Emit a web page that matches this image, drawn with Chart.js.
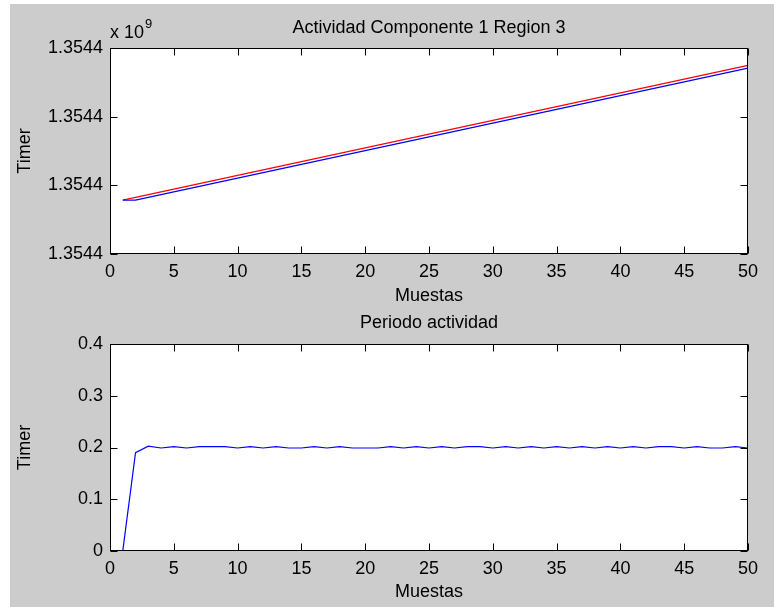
<!DOCTYPE html>
<html>
<head>
<meta charset="utf-8">
<script src="https://cdn.jsdelivr.net/npm/chart.js@4.4.1/dist/chart.umd.min.js"></script>
<style>
  html, body { margin: 0; padding: 0; background: #ffffff; width: 774px; height: 607px; overflow: hidden; }
  #fondo { position: absolute; left: 10px; top: 4px; right: 0; bottom: 0; background: #cccccc; }
  canvas { position: absolute; left: 0; }
  #c1 { top: 0; }
  #c2 { top: 300px; }
</style>
</head>
<body>
<div id="fondo"></div>
<canvas id="c1" width="774" height="310"></canvas>
<canvas id="c2" width="774" height="307"></canvas>
<script>
// Número de muestra
const muestras = [1,2,3,4,5,6,7,8,9,10,11,12,13,14,15,16,17,18,19,20,
                  21,22,23,24,25,26,27,28,29,30,31,32,33,34,35,36,37,38,39,40,
                  41,42,43,44,45,46,47,48,49,50];

// Instante de fin de actividad (timer, s)
const timerFin = [
  1354402618.9300, 1354402619.1200, 1354402619.3225, 1354402619.5215, 1354402619.7230,
  1354402619.9220, 1354402620.1235, 1354402620.3250, 1354402620.5265, 1354402620.7255,
  1354402620.9270, 1354402621.1260, 1354402621.3275, 1354402621.5265, 1354402621.7255,
  1354402621.9270, 1354402622.1260, 1354402622.3275, 1354402622.5265, 1354402622.7255,
  1354402622.9245, 1354402623.1260, 1354402623.3250, 1354402623.5265, 1354402623.7255,
  1354402623.9270, 1354402624.1260, 1354402624.3275, 1354402624.5290, 1354402624.7280,
  1354402624.9295, 1354402625.1285, 1354402625.3300, 1354402625.5290, 1354402625.7305,
  1354402625.9295, 1354402626.1310, 1354402626.3300, 1354402626.5315, 1354402626.7305,
  1354402626.9320, 1354402627.1310, 1354402627.3325, 1354402627.5340, 1354402627.7330,
  1354402627.9345, 1354402628.1335, 1354402628.3325, 1354402628.5340, 1354402628.7330
];

// Instante de inicio de actividad (timer, s)
const timerInicio = [
  1354402618.9300, 1354402618.9300, 1354402619.1200, 1354402619.3225, 1354402619.5215,
  1354402619.7230, 1354402619.9220, 1354402620.1235, 1354402620.3250, 1354402620.5265,
  1354402620.7255, 1354402620.9270, 1354402621.1260, 1354402621.3275, 1354402621.5265,
  1354402621.7255, 1354402621.9270, 1354402622.1260, 1354402622.3275, 1354402622.5265,
  1354402622.7255, 1354402622.9245, 1354402623.1260, 1354402623.3250, 1354402623.5265,
  1354402623.7255, 1354402623.9270, 1354402624.1260, 1354402624.3275, 1354402624.5290,
  1354402624.7280, 1354402624.9295, 1354402625.1285, 1354402625.3300, 1354402625.5290,
  1354402625.7305, 1354402625.9295, 1354402626.1310, 1354402626.3300, 1354402626.5315,
  1354402626.7305, 1354402626.9320, 1354402627.1310, 1354402627.3325, 1354402627.5340,
  1354402627.7330, 1354402627.9345, 1354402628.1335, 1354402628.3325, 1354402628.5340
];

// Periodo de actividad por muestra (s)
const periodo = [
  0, 0.19, 0.2025, 0.199, 0.2015, 0.199, 0.2015, 0.2015, 0.2015, 0.199,
  0.2015, 0.199, 0.2015, 0.199, 0.199, 0.2015, 0.199, 0.2015, 0.199, 0.199,
  0.199, 0.2015, 0.199, 0.2015, 0.199, 0.2015, 0.199, 0.2015, 0.2015, 0.199,
  0.2015, 0.199, 0.2015, 0.199, 0.2015, 0.199, 0.2015, 0.199, 0.2015, 0.199,
  0.2015, 0.199, 0.2015, 0.2015, 0.199, 0.2015, 0.199, 0.199, 0.2015, 0.199
];

// Ticks
const ticksMuestras = [0, 5, 10, 15, 20, 25, 30, 35, 40, 45, 50];
const ticksTimer = [1354402615, 1354402620, 1354402625, 1354402630];
const etiquetaTimer = '1.3544';
const ticksPeriodo = [0, 0.1, 0.2, 0.3, 0.4];

const FONT = '"Liberation Sans", Arial, Helvetica, sans-serif';
const fuente = { family: FONT, size: 18, weight: 'normal', lineHeight: 1.2 };

// Caja de ejes estilo MATLAB: fondo blanco, marco negro y marcas hacia dentro
const cajaEjes = {
  id: 'cajaEjes',
  beforeDraw(chart) {
    const { ctx, chartArea: a } = chart;
    ctx.save();
    ctx.fillStyle = '#ffffff';
    ctx.fillRect(a.left, a.top, a.right - a.left, a.bottom - a.top);
    ctx.restore();
  },
  afterDraw(chart) {
    const { ctx, chartArea: a, scales } = chart;
    const L = Math.round(a.left) + 0.5, R = Math.round(a.right) - 0.5;
    const T = Math.round(a.top) + 0.5, B = Math.round(a.bottom) - 0.5;
    const len = 7;
    ctx.save();
    ctx.strokeStyle = '#000000';
    ctx.lineWidth = 1;
    ctx.beginPath();
    scales.x.ticks.forEach(t => {
      const px = Math.round(scales.x.getPixelForValue(t.value)) + 0.5;
      ctx.moveTo(px, B); ctx.lineTo(px, B - len);
      ctx.moveTo(px, T); ctx.lineTo(px, T + len);
    });
    scales.y.ticks.forEach(t => {
      const py = Math.round(scales.y.getPixelForValue(t.value)) + 0.5;
      ctx.moveTo(L, py); ctx.lineTo(L + len, py);
      ctx.moveTo(R, py); ctx.lineTo(R - len, py);
    });
    ctx.stroke();
    ctx.strokeRect(L, T, R - L, B - T);
    ctx.restore();
  }
};

// Factor de escala "x 10^9" sobre el eje Y
const factorEscala = {
  id: 'factorEscala',
  afterDraw(chart) {
    const { ctx, chartArea: a } = chart;
    ctx.save();
    ctx.fillStyle = '#000000';
    ctx.textBaseline = 'alphabetic';
    ctx.textAlign = 'left';
    ctx.font = '18px ' + FONT;
    const base = 'x 10';
    ctx.fillText(base, a.left, a.top - 10);
    const w = ctx.measureText(base).width;
    ctx.font = '13px ' + FONT;
    ctx.fillText('9', a.left + w + 1, a.top - 20);
    ctx.restore();
  }
};

function ejeX(paddingTitulo) {
  return {
    type: 'linear',
    min: 0, max: 50,
    afterBuildTicks: s => { s.ticks = ticksMuestras.map(v => ({ value: v })); },
    ticks: { color: '#000', font: fuente, padding: 7, maxRotation: 0, autoSkip: false },
    grid: { display: false, drawTicks: false },
    border: { display: false },
    title: { display: true, text: 'Muestas', color: '#000', font: fuente, padding: { top: 0, bottom: paddingTitulo } },
    afterFit: s => { s.height = 56; }
  };
}

function ejeY(opciones) {
  return Object.assign({
    type: 'linear',
    grid: { display: false, drawTicks: false },
    border: { display: false },
    title: { display: true, text: 'Timer', color: '#000', font: fuente, padding: { top: 14, bottom: 0 } },
    afterFit: s => { s.width = 110; }
  }, opciones);
}

// Gráfica superior: timer de inicio y fin
new Chart(document.getElementById('c1'), {
  type: 'line',
  data: {
    labels: muestras,
    datasets: [
      { label: 'Inicio', data: timerInicio, borderColor: '#0000ff', borderWidth: 1.2, pointRadius: 0, tension: 0, order: 1 },
      { label: 'Fin', data: timerFin, borderColor: '#ff0000', borderWidth: 1.2, pointRadius: 0, tension: 0, order: 2 }
    ]
  },
  options: {
    responsive: false, animation: false,
    layout: { padding: { top: 0, left: 0, right: 26, bottom: 0 } },
    plugins: {
      legend: { display: false }, tooltip: { enabled: false },
      title: { display: true, fullSize: false, text: 'Actividad Componente 1 Region 3', color: '#000', font: fuente, padding: { top: 17.2, bottom: 9.2 } }
    },
    scales: {
      x: ejeX(3),
      y: ejeY({
        min: ticksTimer[0], max: ticksTimer[ticksTimer.length - 1],
        afterBuildTicks: s => { s.ticks = ticksTimer.map(v => ({ value: v })); },
        ticks: { color: '#000', font: fuente, padding: 7, callback: () => etiquetaTimer }
      })
    }
  },
  plugins: [cajaEjes, factorEscala]
});

// Gráfica inferior: periodo de actividad
new Chart(document.getElementById('c2'), {
  type: 'line',
  data: {
    labels: muestras,
    datasets: [
      { label: 'Periodo', data: periodo, borderColor: '#0000ff', borderWidth: 1.2, pointRadius: 0, tension: 0 }
    ]
  },
  options: {
    responsive: false, animation: false,
    layout: { padding: { top: 0, left: 0, right: 26, bottom: 0 } },
    plugins: {
      legend: { display: false }, tooltip: { enabled: false },
      title: { display: true, fullSize: false, text: 'Periodo actividad', color: '#000', font: fuente, padding: { top: 12.2, bottom: 10.2 } }
    },
    scales: {
      x: ejeX(4),
      y: ejeY({
        min: 0, max: 0.4,
        afterBuildTicks: s => { s.ticks = ticksPeriodo.map(v => ({ value: v })); },
        ticks: { color: '#000', font: fuente, padding: 7 }
      })
    }
  },
  plugins: [cajaEjes]
});
</script>
</body>
</html>
